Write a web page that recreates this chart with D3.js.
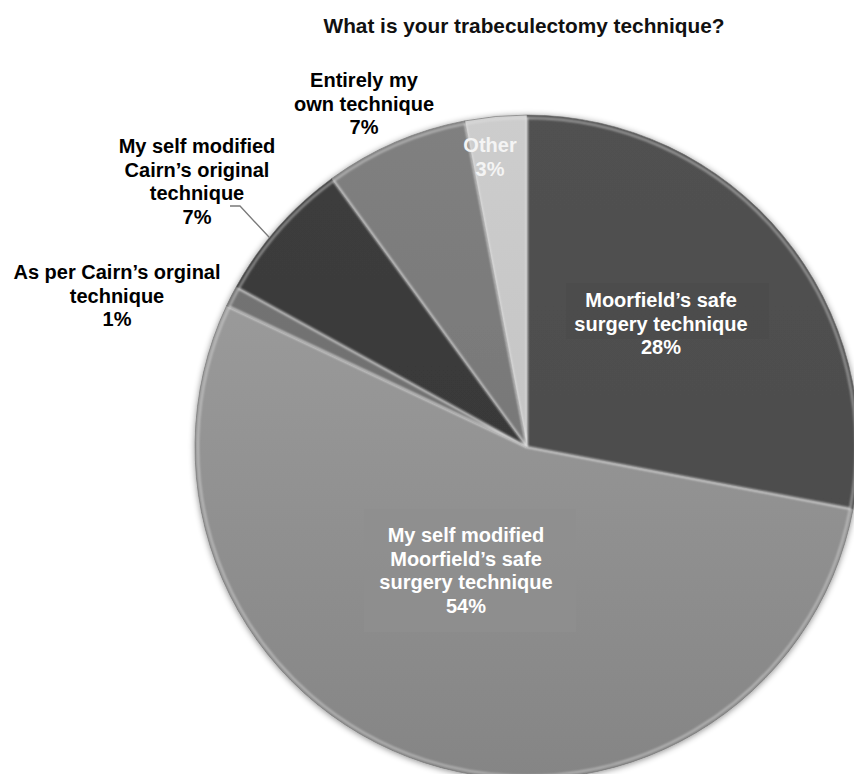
<!DOCTYPE html>
<html>
<head>
<meta charset="utf-8">
<script src="https://cdn.jsdelivr.net/npm/d3@7"></script>
<style>
  html, body { margin: 0; padding: 0; background: #fff; }
  svg { display: block; }
  text { font-family: "Liberation Sans", Arial, sans-serif; font-weight: bold; }
</style>
</head>
<body>
<svg id="chart" width="854" height="774"></svg>
<script>
// Survey answers, in pie order (clockwise from 12 o'clock)
const categories = [
  "Moorfield\u2019s safe surgery technique",
  "My self modified Moorfield\u2019s safe surgery technique",
  "As per Cairn\u2019s orginal technique",
  "My self modified Cairn\u2019s original technique",
  "Entirely my own technique",
  "Other"
];
const values = [28, 54, 1, 7, 7, 3];
const percentLabels = ["28%", "54%", "1%", "7%", "7%", "3%"];
const labelLines = [
  ["Moorfield\u2019s safe", "surgery technique"],
  ["My self modified", "Moorfield\u2019s safe", "surgery technique"],
  ["As per Cairn\u2019s orginal", "technique"],
  ["My self modified", "Cairn\u2019s original", "technique"],
  ["Entirely my", "own technique"],
  ["Other"]
];
const title = "What is your trabeculectomy technique?";

// Styling / layout
const sliceFill = [
  ["#515151", "#4a4a4a"],
  ["#a2a2a2", "#858585"],
  ["#767676", "#6a6a6a"],
  ["#3d3d3d", "#353535"],
  ["#808080", "#707070"],
  ["#cdcdcd", "#bdbdbd"]
];
const textColor = ["#ffffff", "#ffffff", "#000000", "#000000", "#000000", "#f4f4f4"];
// label block centre x, first-line centre y
const labelAnchor = [
  [661, 300], [466, 535], [117, 272], [197, 146], [364, 80], [490, 145]
];
const labelBox = [
  {x: 566, y: 283, w: 203, h: 56, fill: "#4b4b4b"},
  {x: 364, y: 509, w: 212, h: 123, fill: "#8f8f8f"},
  null, null, null, null
];
const lineGap = 23.7;

const svg = d3.select("#chart");
const cx = 527, cy = 447, R = 332;

const defs = svg.append("defs");
sliceFill.forEach((c, i) => {
  const g = defs.append("linearGradient")
    .attr("id", "grad" + i)
    .attr("gradientUnits", "userSpaceOnUse")
    .attr("x1", 0).attr("y1", -R).attr("x2", 0).attr("y2", R);
  g.append("stop").attr("offset", "0%").attr("stop-color", c[0]);
  g.append("stop").attr("offset", "100%").attr("stop-color", c[1]);
});
const shadow = defs.append("filter").attr("id", "shadow")
  .attr("x", "-10%").attr("y", "-10%").attr("width", "120%").attr("height", "120%");
shadow.append("feDropShadow").attr("dx", 0).attr("dy", 1).attr("stdDeviation", 3)
  .attr("flood-color", "#000").attr("flood-opacity", 0.45);
const soft = defs.append("filter").attr("id", "soft");
soft.append("feGaussianBlur").attr("stdDeviation", 1.2);

// Title
svg.append("text")
  .attr("x", 524).attr("y", 33)
  .attr("text-anchor", "middle")
  .attr("font-size", 20.8)
  .attr("fill", "#111")
  .text(title);

const pie = d3.pie().sort(null).value(d => d);
const arcs = pie(values);
const arc = d3.arc().innerRadius(0).outerRadius(R);
const arcInner = d3.arc().innerRadius(0).outerRadius(R - 3);

const gPie = svg.append("g").attr("transform", `translate(${cx},${cy})`);

gPie.append("g").attr("filter", "url(#shadow)")
  .selectAll("path").data(arcs).join("path")
  .attr("d", arc)
  .attr("fill", (d, i) => `url(#grad${i})`)
  .attr("stroke", "#6a6a6a")
  .attr("stroke-width", 0.6);

// bevel highlight along each slice edge
gPie.append("g").attr("filter", "url(#soft)")
  .selectAll("path").data(arcs).join("path")
  .attr("d", arcInner)
  .attr("fill", "none")
  .attr("stroke", "#e6e6e6")
  .attr("stroke-opacity", 0.55)
  .attr("stroke-width", 2);

// label background boxes
labelBox.forEach(b => {
  if (!b) return;
  svg.append("rect").attr("x", b.x).attr("y", b.y)
    .attr("width", b.w).attr("height", b.h).attr("fill", b.fill).attr("opacity", 0.8);
});

// leader line for the "self modified Cairn's" label
const leadA = arcs[3].startAngle + 0.18;
svg.append("polyline")
  .attr("points", [[230, 206], [240, 206],
    [cx + Math.sin(leadA) * R, cy - Math.cos(leadA) * R]]
    .map(p => p.join(",")).join(" "))
  .attr("fill", "none").attr("stroke", "#7a7a7a").attr("stroke-width", 1.3);

// labels
arcs.forEach((d, i) => {
  const lines = labelLines[i].concat([percentLabels[i]]);
  const t = svg.append("text")
    .attr("text-anchor", "middle")
    .attr("font-size", 20)
    .attr("fill", textColor[i]);
  lines.forEach((ln, k) => {
    t.append("tspan")
      .attr("x", labelAnchor[i][0])
      .attr("y", labelAnchor[i][1] + k * lineGap)
      .attr("dy", "0.35em")
      .text(ln);
  });
});
</script>
</body>
</html>
